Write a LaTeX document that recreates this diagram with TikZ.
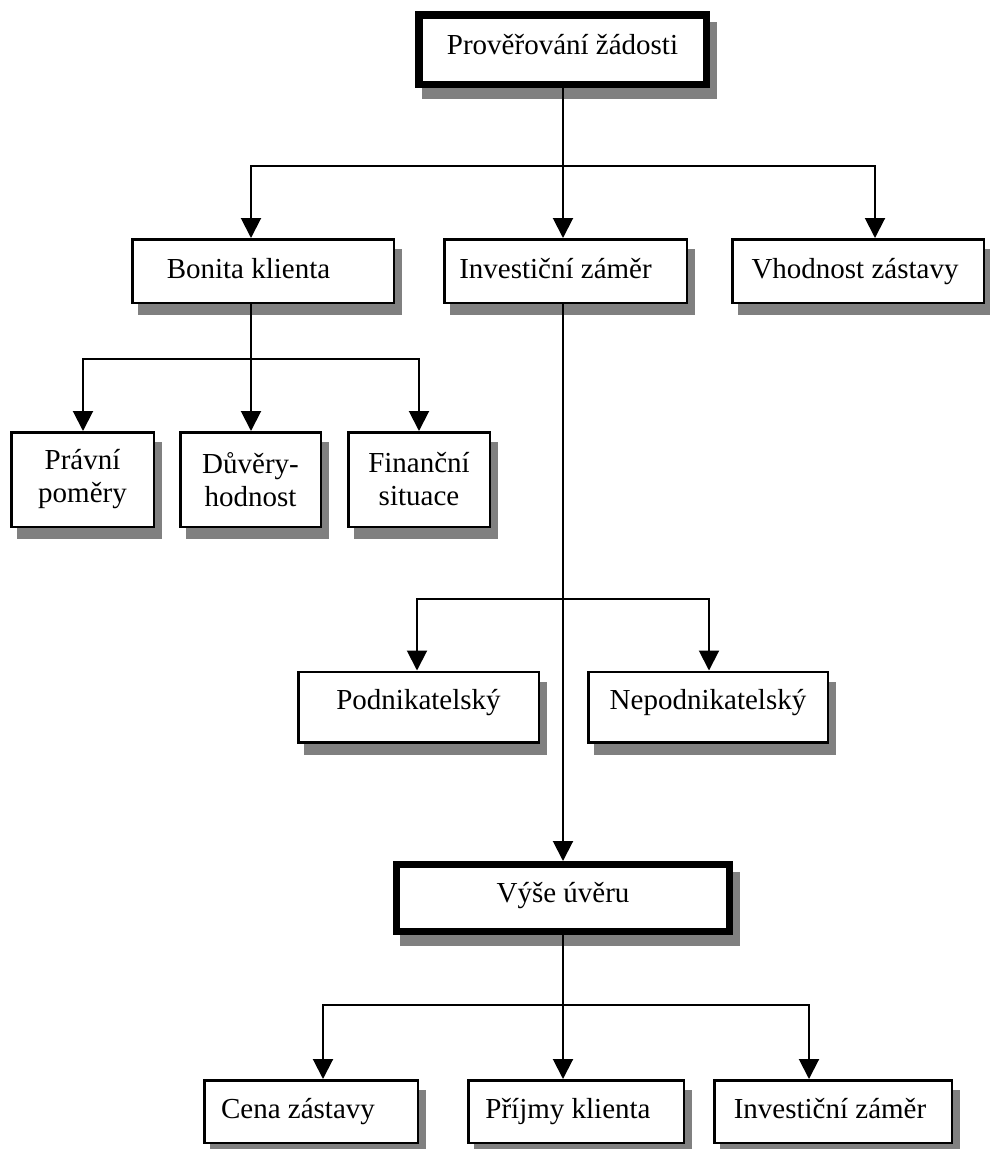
\documentclass[tikz,border=0pt]{standalone}
\usepackage{fontspec}
\setmainfont{Liberation Serif}
\usetikzlibrary{arrows.meta,backgrounds,calc}
\definecolor{shgray}{HTML}{808080}
\newcommand\txs[2]{\hspace*{#1}#2\hspace*{-#1}}
\begin{document}
\begin{tikzpicture}[x=1pt,y=-1pt,
  box/.style={draw, fill=white, line width=2.5pt, inner sep=0pt,
    font=\fontsize{29}{33}\selectfont},
  one/.style={text height=20pt, text depth=6pt},
  two/.style={align=center},
  thickbox/.style={line width=7.5pt},
  conn/.style={line width=2pt},
  arr/.style={conn, -{Triangle[width=20pt,length=20pt]}}]
\useasboundingbox (0,0) rectangle (990,1149);

% level 1
\node[box, one, text depth=11pt, thickbox, minimum width=287.5pt, minimum height=69.5pt] (top) at (562.5,49.5) {Prověřování žádosti};

% level 2
\node[box, one, minimum width=261.5pt, minimum height=63.5pt] (bon) at (263,271) {\txs{-14.5pt}{Bonita klienta}};
\node[box, one, minimum width=242.5pt, minimum height=63.5pt] (inv) at (565.5,271) {\txs{-10pt}{Investiční záměr}};
\node[box, one, minimum width=251.5pt, minimum height=63.5pt] (vho) at (858,271) {\txs{-3pt}{Vhodnost zástavy}};

% level 3
\node[box, two, minimum width=142.5pt, minimum height=94.5pt] (pra) at (82.5,479.5) {Právní\\poměry};
\node[box, two, minimum width=140.5pt, minimum height=94.5pt] (duv) at (250.5,479.5) {Důvěry-\\hodnost};
\node[box, two, minimum width=141.5pt, minimum height=94.5pt] (fin) at (419,479.5) {Finanční\\situace};

% level 4
\node[box, one, text depth=16pt, minimum width=240.5pt, minimum height=70.5pt] (pod) at (418.5,707) {Podnikatelský};
\node[box, one, text depth=16pt, minimum width=239.5pt, minimum height=70.5pt] (nep) at (708,707) {Nepodnikatelský};

% level 5
\node[box, one, text depth=12pt, line width=7pt, minimum width=333pt, minimum height=67pt] (vys) at (563,898) {Výše úvěru};

% level 6
\node[box, one, minimum width=213.5pt, minimum height=62.5pt] (cen) at (311,1111.5) {\txs{-13pt}{Cena zástavy}};
\node[box, one, minimum width=215.5pt, minimum height=62.5pt] (pri) at (576,1111.5) {\txs{-8pt}{Příjmy klienta}};
\node[box, one, minimum width=237.5pt, minimum height=62.5pt] (inz) at (833,1111.5) {\txs{-3pt}{Investiční záměr}};

% shadows
\begin{scope}[on background layer]
  \foreach \n in {top,bon,inv,vho,pra,duv,fin,pod,nep,vys,cen,pri,inz}
    \fill[shgray] ($(\n.north west)+(7,11)$) rectangle ($(\n.south east)+(7,11)$);
\end{scope}

% connectors
\coordinate (j1) at (563,166);
\draw[conn] (top.south -| j1) -- (j1);
\draw[arr] (j1) -| ([xshift=-12pt]bon.north);
\draw[arr] (j1) -- ([xshift=-2.5pt]inv.north);
\draw[arr] (j1) -| ([xshift=17pt]vho.north);

\coordinate (j2) at (251,359);
\draw[conn] ([xshift=-12pt]bon.south) -- (j2);
\draw[arr] (j2) -| ([xshift=0.5pt]pra.north);
\draw[arr] (j2) -- ([xshift=0.5pt]duv.north);
\draw[arr] (j2) -| (fin.north);

\draw[arr] ([xshift=-2.5pt]inv.south) -- (vys.north);
\coordinate (j3) at (563,599);
\draw[arr] (j3) -| ([xshift=-1.5pt]pod.north);
\draw[arr] (j3) -| ([xshift=1pt]nep.north);

\coordinate (j4) at (563,1005);
\draw[conn] (vys.south) -- (j4);
\draw[arr] (j4) -| ([xshift=12pt]cen.north);
\draw[arr] (j4) -- ([xshift=-13pt]pri.north);
\draw[arr] (j4) -| ([xshift=-24pt]inz.north);
\end{tikzpicture}
\end{document}
